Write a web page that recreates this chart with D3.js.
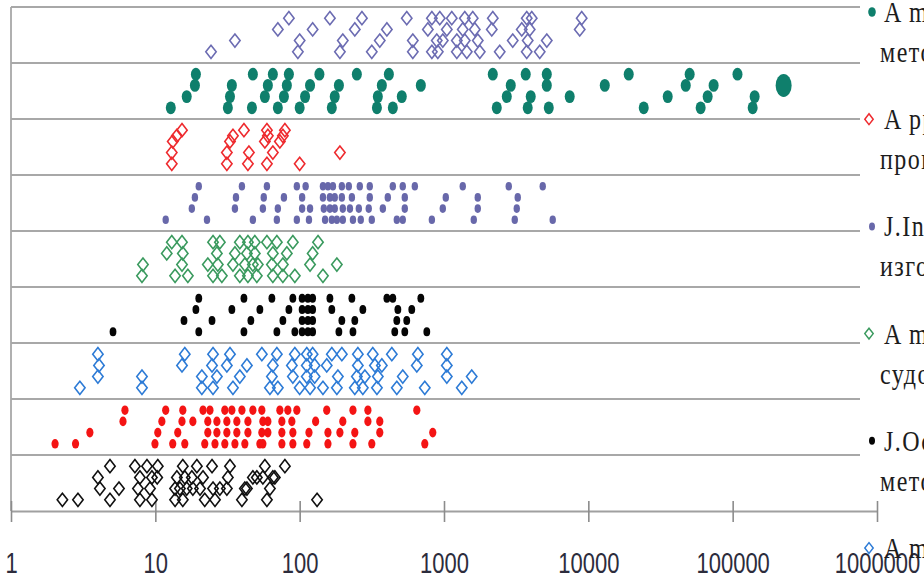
<!DOCTYPE html>
<meta charset="utf-8">

<!-- Load d3.js -->
<script src="https://d3js.org/d3.v7.min.js"></script>

<div id="chart"></div>

<style>
  body {
    margin: 0;
    background: #fff;
  }
  .grid line {
    stroke: #a8a8a8;
    stroke-width: 1.8;
  }
  .xaxis .domain {
    stroke: #a0a0a0;
    stroke-width: 2;
  }
  .xaxis .tick line {
    stroke: #8c8c8c;
    stroke-width: 1.6;
  }
  .xaxis .tick text {
    font-family: 'Liberation Sans', Arial, sans-serif;
    font-size: 22px;
    fill: #2c2c3c;
  }
  .legend text {
    font-family: 'Liberation Serif', 'Times New Roman', serif;
    font-size: 24px;
    letter-spacing: 1.5px;
    fill: #1c1c1c;
  }
</style>

<script>
  // x values, each with its lane (1 = lowest) inside the row
  var purpleOpen = [[24.3,1],[35.6,2],[70.6,3],[84.2,4],[97.2,1],[100,2],[123,3],[162,4],[190,1],[199,2],[241,3],[270,4],
    [316,1],[359,2],[402,3],[552,4],[608,2],[608,1],[773,3],[824,4],[824,1],[891,2],[906,1],[935,4],[981,2],[1046,3],
    [1132,4],[1227,1],[1227,2],[1349,3],[1393,4],[1393,2],[1439,1],[1582,4],[1634,3],[1714,2],[1770,1],[2143,3],[2178,4],
    [2433,1],[2994,2],[3457,3],[3743,4],[3926,3],[3802,2],[3743,1],[4055,4],[4605,1],[5154,2],[8995,4],[8717,3]];

  var tealFilled = [[12.8,1],[16.5,2],[18.8,3],[19.1,4],[31.8,1],[32.9,2],[33.9,3],[46.7,1],[47.4,4],[57.4,2],[60.2,3],
    [65.2,4],[70.6,1],[77.8,2],[81.5,3],[84.2,4],[100,1],[109,2],[118,3],[137,4],[167,1],[175,2],[187,3],[249,4],[343,1],
    [348,2],[371,3],[415,4],[442,1],[510,2],[691,3],[2178,4],[2321,1],[2723,2],[2901,3],[3683,4],[3802,1],[3990,2],
    [5154,4],[5154,3],[5321,1],[7430,2],[13000,3],[19050,4],[24200,1],[35480,2],[47300,3],[50350,4],[60000,1],
    [67100,2],[73800,3],[108000,4],[137600,1],[142000,2],[225500,3]];

  var redOpen = [[13.0,1],[13.0,2],[13.2,3],[14.1,3.5],[15.3,4],[31.3,1],[31.3,2],[32.9,3],[34.5,3.5],[41.1,4],[43.8,1],
    [44.5,2],[57.4,3],[60.2,3.5],[59.3,4],[59.3,1],[65.2,2],[72.9,3],[76.5,3.5],[79.0,4],[100,1],[190,2]];

  var purpleFilled = [[11.8,1],[17.9,2],[18.8,3],[20.0,4],[22.8,1],[35.6,2],[36.2,3],[39.8,4],[47.4,1],[55.6,2],[56.4,3],
    [59.3,4],[69.5,1],[70.6,2],[77.8,3],[95.6,1],[95.6,4],[104,3],[104,2],[110,4],[116,1],[118,2],[145,4],[145,3],
    [147,2],[150,1],[157,4],[162,3],[162,2],[167,1],[170,4],[175,3],[175,2],[181,1],[196,4],[196,3],[199,2],[199,1],
    [219,4],[230,3],[223,2],[234,1],[261,4],[257,2],[265,1],[306,4],[306,3],[301,2],[316,1],[377,2],[408,3],[442,4],
    [471,1],[518,4],[535,3],[535,2],[518,1],[628,4],[824,1],[981,2],[1029,3],[1349,4],[1714,3],[1714,2],[1608,1],
    [2810,4],[3243,3],[3192,2],[3092,1],[4831,4],[5666,1]];

  var greenOpen = [[8.08,1],[8.21,2],[12.0,3],[13.0,4],[15.3,4],[15.5,3],[15.3,2],[13.7,1],[16.8,1],[25.1,4],[28.0,4],
    [26.7,3],[23.1,2],[27.1,2],[25.1,1],[28.9,1],[38.5,4],[43.8,4],[48.9,4],[35.6,3],[43.1,3],[48.9,3],[34.5,2],[41.7,2],
    [47.4,2],[51.3,2],[38.5,1],[43.8,1],[50.5,1],[59.3,4],[69.5,4],[65.2,3],[81.5,3],[64.2,2],[76.5,2],[65.2,1],[76.5,1],
    [89.7,4],[92.6,1],[118,2],[123,3],[134,4],[145,1],[181,2]];

  var blackFilled = [[5.09,1],[15.8,2],[19.1,3],[20.0,4],[20.0,1],[24.7,2],[33.9,3],[41.1,4],[41.1,1],[45.9,2],[53.0,3],
    [64.2,4],[69.5,1],[76.5,2],[84.2,3],[89.7,4],[92.6,1],[104,4],[104,3],[104,2],[104,1],[114,4],[114,3],[114,2],
    [114,1],[123,4],[123,3],[123,2],[123,1],[162,4],[167,3],[196,2],[187,1],[230,4],[274,3],[241,2],[234,1],[402,4],
    [442,4],[479,3],[598,3],[471,2],[552,2],[456,1],[535,1],[691,4],[760,1]];

  var blueOpen = [[3.0,1],[4.0,4],[4.07,3],[4.0,2],[8.08,2],[8.08,1],[16.0,4],[15.3,3],[25.1,4],[24.7,3],[21.0,2],[21.0,1],
    [25.1,1],[26.7,2],[32.9,4],[31.3,3],[34.5,1],[38.5,2],[43.1,3],[54.7,4],[69.5,4],[65.2,3],[64.2,2],[62.2,1],[70.6,1],
    [92.6,4],[88.3,3],[89.7,2],[100,1],[112,4],[123,4],[112,3],[127,3],[112,2],[127,2],[118,1],[145,1],[154,3],[167,4],
    [184,2],[196,4],[181,1],[253,4],[253,3],[249,2],[241,1],[321,4],[332,3],[283,2],[274,1],[371,3],[348,2],[343,1],
    [435,4],[518,2],[471,1],[659,4],[648,3],[736,1],[1046,4],[1046,3],[1046,2],[1328,1],[1556,2]];

  var redFilled = [[2.02,1],[2.8,1],[3.52,2],[5.97,3],[6.16,4],[9.94,1],[10.4,2],[11.1,3],[11.8,4],[13.2,1],[14.3,2],
    [15.3,3],[15.5,4],[16.0,1],[18.2,3],[21.4,4],[22.0,1],[23.1,3],[23.1,2],[23.9,4],[25.9,1],[26.7,3],[26.7,2],[30.3,4],
    [31.3,3],[30.3,1],[31.3,2],[33.9,4],[35.6,1],[36.7,3],[36.7,2],[39.8,4],[41.7,1],[43.8,2],[43.8,3],[47.4,4],[53.0,1],
    [54.7,4],[54.7,2],[55.6,3],[60.2,3],[55.6,1],[60.2,2],[72.9,4],[75.3,3],[75.3,2],[75.3,1],[82.8,4],[95.6,4],[88.3,3],
    [89.7,2],[89.7,1],[112,1],[116,2],[129,3],[154,4],[157,1],[157,2],[199,3],[190,2],[234,4],[234,1],[241,2],[297,4],
    [297,3],[316,1],[359,3],[359,2],[648,4],[736,1],[836,2]];

  var blackOpen = [[2.27,1],[2.91,1],[4.0,3],[4.13,2],[4.85,4],[4.85,1],[5.6,2],[7.22,4],[7.82,3],[7.58,2],[7.82,1],
    [8.75,4],[9.47,3],[9.18,2],[9.47,1],[10.4,4],[10.3,3],[15.5,4],[14.1,3],[13.7,2],[13.7,1],[15.5,1],[14.8,2],[16.0,3],
    [16.5,2],[17.9,3],[18.2,2],[19.4,4],[20.4,2],[21.4,3],[22.0,1],[24.7,4],[25.1,2],[25.9,1],[28.0,2],[32.9,4],[31.8,3],
    [31.3,2],[39.8,1],[41.7,2],[43.1,2],[47.4,3],[50.5,3],[57.4,4],[55.6,3],[59.3,1],[62.2,2],[65.2,3],[67.3,3],[79.0,4],
    [132,1]];

  var tickValues = [1, 10, 100, 1000, 10000, 100000, 1000000];

  // legend text, cut by the right edge of the picture
  var legendLine1 = ["A mат", "A ppо", "J.Inс", "A mор", "J.Ocе", "A mат"];
  var legendLine2 = ["метод", "проце", "изгот", "судов", "метод", ""];

  var width = 924, height = 581;

  var svg = d3.select("#chart")
    .append("svg")
      .attr("width", width)
      .attr("height", height);

  var x = d3.scaleLog()
    .domain([1, 1000000])
    .range([11, 877]);

  var y = d3.scaleLinear()
    .domain([0, 9])
    .range([511, 7]);

  // row order from the bottom up
  var series = [
    { data: blackOpen,    color: "#111111", kind: "open" },
    { data: redFilled,    color: "#f41414", kind: "dot", rx: 3.6, ry: 4.8 },
    { data: blueOpen,     color: "#2d7bd6", kind: "open" },
    { data: blackFilled,  color: "#050505", kind: "dot", rx: 3.4, ry: 4.5 },
    { data: greenOpen,    color: "#3a9a5e", kind: "open" },
    { data: purpleFilled, color: "#6868aa", kind: "dot", rx: 3.2, ry: 4.3 },
    { data: redOpen,      color: "#ee2a2e", kind: "open" },
    { data: tealFilled,   color: "#0f7f6c", kind: "dot", rx: 5, ry: 6.4 },
    { data: purpleOpen,   color: "#6c6cb2", kind: "open" }
  ];

  // horizontal gridlines
  svg.append("g")
      .attr("class", "grid")
    .selectAll("line")
    .data(d3.range(1, 10))
    .enter()
    .append("line")
      .attr("x1", x(1))
      .attr("x2", x(1000000) - 17)
      .attr("y1", function(d) { return y(d); })
      .attr("y2", function(d) { return y(d); });

  // left border
  svg.append("line")
      .attr("x1", x(1)).attr("x2", x(1))
      .attr("y1", y(9)).attr("y2", y(0))
      .attr("stroke", "#a8a8a8")
      .attr("stroke-width", 1.8);

  // X axis
  var xAxis = svg.append("g")
      .attr("class", "xaxis")
      .attr("transform", "translate(0," + y(0) + ")")
      .call(d3.axisBottom(x)
        .tickValues(tickValues)
        .tickFormat(d3.format("d"))
        .tickSizeInner(11)
        .tickSizeOuter(0));

  xAxis.attr("font-size", null).attr("font-family", null);
  xAxis.selectAll(".tick line").attr("y1", -10);
  xAxis.selectAll(".tick text")
      .attr("y", 0)
      .attr("dy", 0)
      .attr("transform", "translate(0,62) scale(1,1.3)");

  function diamond(hw, hh) {
    return "M0," + (-hh) + "L" + hw + ",0L0," + hh + "L" + (-hw) + ",0Z";
  }

  series.forEach(function(s, row) {
    var g = svg.append("g");
    var maxVal = d3.max(s.data, function(d) { return d[0]; });
    if (s.kind === "open") {
      g.selectAll("path")
        .data(s.data)
        .enter()
        .append("path")
          .attr("d", diamond(5.2, 6.6))
          .attr("transform", function(d) {
            return "translate(" + x(d[0]) + "," + y(row + d[1] * 0.2) + ")";
          })
          .attr("fill", "none")
          .attr("stroke", s.color)
          .attr("stroke-width", 1.6);
    } else {
      g.selectAll("ellipse")
        .data(s.data)
        .enter()
        .append("ellipse")
          .attr("cx", function(d) { return x(d[0]); })
          .attr("cy", function(d) { return y(row + d[1] * 0.2); })
          .attr("rx", function(d) { return (s === series[7] && d[0] === maxVal) ? 8 : s.rx; })
          .attr("ry", function(d) { return (s === series[7] && d[0] === maxVal) ? 11.5 : s.ry; })
          .attr("fill", s.color);
    }
  });

  // legend (partly outside the picture)
  var legendSeries = [series[7], series[6], series[5], series[4], series[3], series[2]];
  var legend = svg.append("g").attr("class", "legend");

  legendSeries.forEach(function(s, i) {
    var base = 22 + i * 107.2;
    if (s.kind === "open") {
      legend.append("path")
        .attr("d", diamond(4.2, 5.4))
        .attr("transform", "translate(869," + (base - 10) + ")")
        .attr("fill", "none")
        .attr("stroke", s.color)
        .attr("stroke-width", 1.5);
    } else {
      legend.append("ellipse")
        .attr("cx", 872)
        .attr("cy", base - 10)
        .attr("rx", s === series[7] ? 3.8 : 3)
        .attr("ry", s === series[7] ? 4.8 : 4)
        .attr("fill", s.color);
    }
    legend.append("text")
      .attr("transform", "translate(884," + base + ") scale(1,1.25)")
      .text(legendLine1[i]);
    legend.append("text")
      .attr("transform", "translate(880," + (base + 40) + ") scale(1,1.25)")
      .text(legendLine2[i]);
  });
</script>
